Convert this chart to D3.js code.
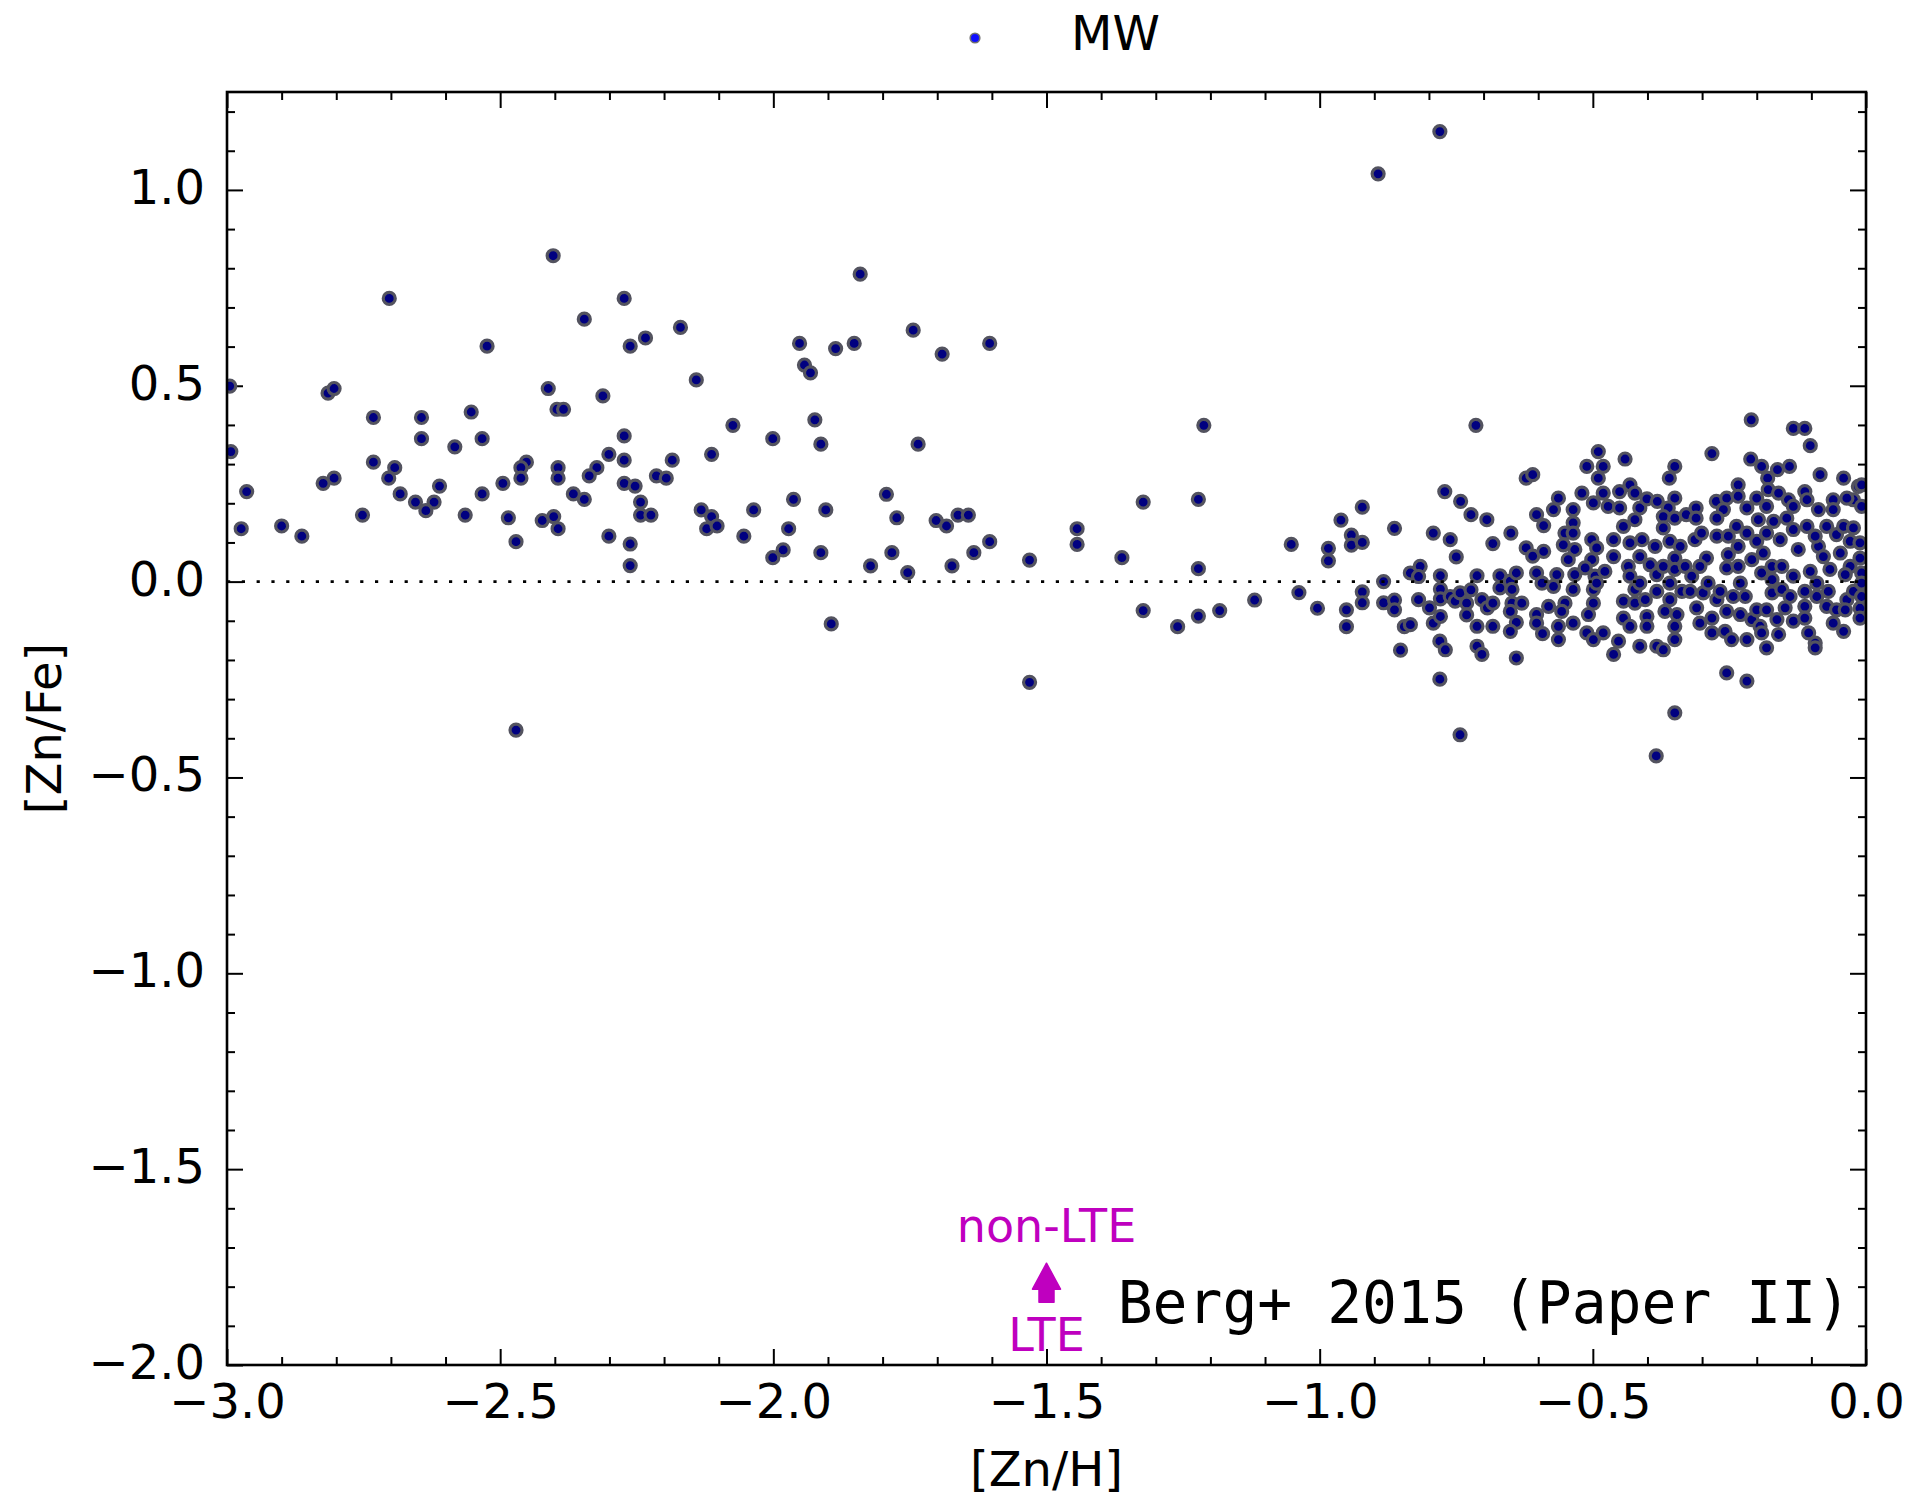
<!DOCTYPE html>
<html>
<head>
<meta charset="utf-8">
<script src="https://cdn.jsdelivr.net/npm/d3@7"></script>
<style>
  body { margin: 0; background: #ffffff; }
</style>
</head>
<body>
<svg id="chart" width="1909" height="1498"></svg>
<script>
// Axis ranges and labelled ticks
const xDomain = [-3.0, 0.0];
const yDomain = [-2.0, 1.25];
const xTicks = [-3.0, -2.5, -2.0, -1.5, -1.0, -0.5, 0.0];
const yTicks = [1.0, 0.5, 0.0, -0.5, -1.0, -1.5, -2.0];

// Milky Way stars: [ [Zn/H], [Zn/Fe] ]
// metal-poor halo stars
const mwHalo = [
  [-2.403,0.832],[-2.703,0.723],[-2.273,0.723],[-2.346,0.670],[-2.170,0.649],[-2.524,0.601],[-2.262,0.601],
  [-2.234,0.622],[-2.141,0.515],[-2.995,0.499],[-2.815,0.481],[-2.804,0.493],[-2.412,0.493],[-2.312,0.474],
  [-2.396,0.440],[-2.384,0.440],[-2.732,0.419],[-2.644,0.419],[-2.553,0.433],[-2.074,0.399],[-2.644,0.365],
  [-2.533,0.365],[-2.583,0.344],[-2.273,0.372],[-2.993,0.332],[-2.732,0.305],[-2.693,0.291],[-2.704,0.264],
  [-2.301,0.325],[-2.273,0.310],[-2.113,0.325],[-2.185,0.310],[-2.452,0.305],[-2.462,0.291],[-2.462,0.264],
  [-2.394,0.291],[-2.394,0.264],[-2.323,0.291],[-2.337,0.270],[-2.214,0.270],[-2.196,0.264],[-2.804,0.264],
  [-2.824,0.251],[-2.964,0.230],[-2.683,0.224],[-2.611,0.244],[-2.533,0.224],[-2.495,0.251],[-2.366,0.224],
  [-2.346,0.210],[-2.273,0.251],[-2.253,0.244],[-2.243,0.203],[-2.243,0.170],[-2.224,0.170],[-2.655,0.203],
  [-2.621,0.203],[-2.636,0.181],[-2.752,0.170],[-2.564,0.170],[-2.485,0.163],[-2.423,0.156],[-2.402,0.166],
  [-2.394,0.135],[-2.132,0.183],[-2.113,0.166],[-2.122,0.135],[-2.103,0.142],[-2.036,0.183],[-2.974,0.135],
  [-2.900,0.142],[-2.863,0.116],[-2.471,0.102],[-2.301,0.116],[-2.262,0.096],[-2.262,0.041],[-2.054,0.116],
  [-2.471,-0.379]
];

// intermediate metallicity stars
const mwIntermediate = [
  [-1.841,0.785],[-1.744,0.642],[-1.952,0.608],[-1.886,0.595],[-1.852,0.608],[-1.691,0.581],[-1.604,0.608],
  [-1.943,0.553],[-1.932,0.533],[-1.924,0.413],[-2.001,0.365],[-1.913,0.351],[-1.735,0.351],[-1.212,0.399],
  [-1.793,0.223],[-1.963,0.210],[-1.904,0.183],[-1.972,0.135],[-1.774,0.163],[-1.702,0.156],[-1.683,0.142],
  [-1.662,0.170],[-1.643,0.170],[-1.444,0.135],[-1.444,0.095],[-1.323,0.203],[-1.222,0.210],[-1.982,0.081],
  [-2.001,0.061],[-1.913,0.074],[-1.822,0.040],[-1.783,0.074],[-1.754,0.023],[-1.673,0.040],[-1.633,0.074],
  [-1.604,0.102],[-1.531,0.055],[-1.362,0.061],[-1.222,0.033],[-1.052,0.095],
  [-1.894,-0.108],[-1.531,-0.257],[-1.323,-0.074],[-1.260,-0.115],[-1.222,-0.088],[-1.183,-0.074],
  [-1.119,-0.047],[-1.038,-0.028],
  [-0.780,1.149],[-0.893,1.041],[-0.714,0.399],
  [-1.004,-0.068],[-0.984,0.085],[-0.984,0.053],[-0.961,0.157],[-0.942,0.119],[-0.942,0.093],[-0.922,0.190],
  [-0.922,0.100],[-0.951,-0.072],[-0.951,-0.115],[-0.922,-0.026],[-0.922,-0.054],[-0.883,0.000],[-0.883,-0.054],
  [-0.863,0.136],[-0.863,-0.047],[-0.863,-0.072],[-0.852,-0.175],[-0.845,-0.115],
  [-0.210,0.413],[-0.133,0.391],[-0.112,0.391],[-0.384,-0.445]
];

// thick-disc stars
const mwThickDisc = [
  [-0.771,0.230],[-0.742,0.205],[-0.723,0.171],[-0.694,0.158],[-0.792,0.124],[-0.761,0.107],[-0.750,0.063],
  [-0.683,0.097],[-0.650,0.124],[-0.622,0.264],[-0.610,0.273],[-0.603,0.171],[-0.590,0.143],[-0.622,0.086],
  [-0.610,0.065],[-0.590,0.077],[-0.572,0.184],[-0.563,0.213],
  [-0.834,0.022],[-0.816,0.039],[-0.819,0.013],[-0.779,0.015],[-0.779,-0.019],[-0.779,-0.044],[-0.819,-0.046],
  [-0.799,-0.067],[-0.834,-0.110],[-0.792,-0.106],[-0.779,-0.089],[-0.780,-0.152],[-0.770,-0.174],[-0.780,-0.249],
  [-0.743,-0.391],[-0.761,-0.038],[-0.752,-0.050],[-0.731,-0.055],[-0.743,-0.029],[-0.723,-0.021],[-0.712,0.015],
  [-0.731,-0.085],[-0.712,-0.114],[-0.712,-0.165],[-0.703,-0.186],[-0.703,-0.046],[-0.693,-0.067],[-0.683,-0.055],
  [-0.683,-0.114],[-0.670,0.015],[-0.670,-0.016],[-0.651,0.001],[-0.648,-0.020],[-0.640,0.022],[-0.648,-0.055],
  [-0.630,-0.055],[-0.651,-0.076],[-0.640,-0.104],[-0.651,-0.127],[-0.640,-0.195],[-0.603,0.022],[-0.593,-0.004],
  [-0.581,-0.063],[-0.603,-0.084],[-0.603,-0.106],[-0.592,-0.133],[-0.566,0.018],[-0.572,-0.012],[-0.563,-0.114],
  [-0.563,-0.148]
];

// thin-disc stars
const mwThinDisc = [
  [-0.490,0.332],[-0.511,0.294],[-0.481,0.294],[-0.490,0.264],[-0.441,0.313],[-0.350,0.294],[-0.360,0.264],
  [-0.282,0.327],[-0.211,0.313],[-0.191,0.294],[-0.162,0.286],[-0.140,0.294],[-0.180,0.264],[-0.102,0.347],
  [-0.084,0.273],[-0.041,0.264],[-0.014,0.243],[-0.023,0.209],
  [-0.520,0.226],[-0.536,0.184],[-0.536,0.150],[-0.481,0.226],[-0.499,0.201],[-0.472,0.192],[-0.451,0.230],
  [-0.451,0.188],[-0.432,0.247],[-0.423,0.226],[-0.423,0.158],[-0.414,0.188],[-0.401,0.211],[-0.382,0.205],
  [-0.350,0.213],[-0.362,0.188],[-0.371,0.166],[-0.350,0.162],[-0.329,0.171],[-0.311,0.188],[-0.311,0.162],
  [-0.274,0.205],[-0.255,0.213],[-0.261,0.184],[-0.234,0.247],[-0.234,0.218],[-0.218,0.188],[-0.200,0.213],
  [-0.179,0.235],[-0.160,0.226],[-0.182,0.192],[-0.142,0.209],[-0.112,0.230],[-0.133,0.192],[-0.108,0.209],
  [-0.087,0.184],[-0.060,0.209],[-0.060,0.184],[-0.035,0.213],[-0.008,0.247],
  [-0.551,0.124],[-0.554,0.094],[-0.536,0.124],[-0.533,0.082],[-0.545,0.056],[-0.533,0.018],[-0.502,0.107],
  [-0.493,0.086],[-0.502,0.056],[-0.514,0.035],[-0.496,0.014],[-0.478,0.026],[-0.462,0.064],[-0.462,0.107],
  [-0.444,0.141],[-0.432,0.099],[-0.435,0.039],[-0.432,0.014],[-0.414,0.064],[-0.410,0.107],[-0.395,0.043],
  [-0.386,0.090],[-0.383,0.018],[-0.371,0.137],[-0.359,0.103],[-0.371,0.039],[-0.350,0.060],[-0.340,0.090],
  [-0.350,0.031],[-0.331,0.039],[-0.319,0.014],[-0.313,0.107],[-0.301,0.124],[-0.292,0.060],[-0.304,0.039],
  [-0.273,0.116],[-0.273,0.162],[-0.252,0.116],[-0.252,0.069],[-0.255,0.035],[-0.237,0.141],[-0.234,0.090],
  [-0.234,0.039],[-0.218,0.124],[-0.209,0.056],[-0.197,0.158],[-0.200,0.103],[-0.182,0.124],[-0.188,0.073],
  [-0.191,0.022],[-0.169,0.154],[-0.157,0.107],[-0.172,0.039],[-0.154,0.039],[-0.145,0.162],[-0.133,0.133],
  [-0.124,0.082],[-0.133,0.014],[-0.108,0.141],[-0.102,0.026],[-0.087,0.090],[-0.093,0.116],[-0.078,0.064],
  [-0.072,0.141],[-0.054,0.120],[-0.066,0.031],[-0.047,0.073],[-0.041,0.141],[-0.023,0.137],[-0.029,0.103],
  [-0.029,0.039],[-0.011,0.099],[-0.011,0.060],[-0.008,0.022],[-0.038,0.018],[-0.008,0.192],
  [-0.551,-0.055],[-0.557,-0.076],[-0.536,-0.020],[-0.536,-0.106],[-0.499,-0.020],[-0.499,-0.055],[-0.508,-0.084],
  [-0.511,-0.131],[-0.499,-0.148],[-0.481,-0.131],[-0.462,-0.186],[-0.453,-0.152],[-0.444,-0.050],[-0.444,-0.093],
  [-0.423,-0.020],[-0.423,-0.055],[-0.432,-0.114],[-0.414,-0.165],[-0.404,-0.046],[-0.401,-0.089],[-0.401,-0.114],
  [-0.383,-0.025],[-0.383,-0.165],[-0.371,-0.174],[-0.368,-0.076],[-0.359,-0.046],[-0.346,-0.084],[-0.350,-0.114],
  [-0.350,-0.148],[-0.337,-0.025],[-0.322,-0.025],[-0.310,-0.067],[-0.304,-0.106],[-0.298,-0.029],[-0.282,-0.093],
  [-0.282,-0.131],[-0.273,-0.046],[-0.267,-0.025],[-0.255,-0.076],[-0.258,-0.127],[-0.246,-0.148],[-0.243,-0.038],
  [-0.230,-0.084],[-0.221,-0.038],[-0.218,-0.148],[-0.209,-0.097],[-0.200,-0.072],[-0.194,-0.114],[-0.191,-0.131],
  [-0.182,-0.072],[-0.182,-0.169],[-0.172,-0.029],[-0.163,-0.097],[-0.160,-0.135],[-0.154,-0.020],[-0.148,-0.067],
  [-0.139,-0.038],[-0.133,-0.101],[-0.112,-0.025],[-0.112,-0.063],[-0.112,-0.093],[-0.105,-0.131],[-0.093,-0.157],
  [-0.093,-0.169],[-0.090,-0.038],[-0.072,-0.063],[-0.069,-0.025],[-0.060,-0.106],[-0.054,-0.072],[-0.041,-0.127],
  [-0.035,-0.046],[-0.038,-0.072],[-0.023,-0.025],[-0.011,-0.068],[-0.011,-0.093],[-0.008,-0.038],[-0.008,-0.004],
  [-0.255,-0.233],[-0.218,-0.254],[-0.350,-0.335],[-0.172,0.005],[-0.230,-0.004],[-0.289,-0.004],[-0.359,-0.004],
  [-0.493,-0.004],[-0.414,-0.004],[-0.090,-0.004]
];

const mwStars = [].concat(mwHalo, mwIntermediate, mwThickDisc, mwThinDisc);

// non-LTE correction arrow and its labels, in data units
const nlteArrow = { x: -1.5, from: -1.84, to: -1.74 };
const nlteLabels = [
  { text: "non-LTE", x: -1.5, y: -1.686 },
  { text: "LTE", x: -1.5, y: -1.964 }
];

const legendLabel = "MW";
const sourceLabel = "Berg+ 2015 (Paper II)";
const xTitle = "[Zn/H]";
const yTitle = "[Zn/Fe]";

// ---- layout ----
const plot = { left: 227, right: 1866, top: 92, bottom: 1365 };
const svg = d3.select("#chart");
const x = d3.scaleLinear().domain(xDomain).range([plot.left, plot.right]);
const y = d3.scaleLinear().domain(yDomain).range([plot.bottom, plot.top]);

const FONT = "DejaVu Sans";
const MAGENTA = "#bf00bf";

svg.append("defs").call(defs => {
  defs.append("clipPath").attr("id", "plotClip")
    .append("rect")
    .attr("x", plot.left).attr("y", plot.top)
    .attr("width", plot.right - plot.left).attr("height", plot.bottom - plot.top);
  defs.append("filter").attr("id", "soft")
    .attr("x", "-20%").attr("y", "-20%").attr("width", "140%").attr("height", "140%")
    .append("feGaussianBlur").attr("stdDeviation", 0.6);
});

// minor tick positions every 0.1
const xMinor = d3.range(-29, 0).map(i => i / 10).filter(v => Math.abs(v * 2 - Math.round(v * 2)) > 1e-6);
const yMinor = d3.range(-19, 13).map(i => i / 10).filter(v => Math.abs(v * 2 - Math.round(v * 2)) > 1e-6);

function styleAxis(g) {
  g.select(".domain").remove();
  g.attr("font-family", FONT).attr("font-size", 48);
  g.selectAll(".tick line").attr("stroke", "#000").attr("stroke-width", 2);
  g.selectAll(".tick text").attr("fill", "#000");
}

const fmt = d3.format(".1f");

// bottom axis with labels
svg.append("g").attr("transform", `translate(0,${plot.bottom})`)
  .call(d3.axisBottom(x).tickValues(xTicks).tickSize(-16).tickSizeOuter(0).tickPadding(19).tickFormat(fmt))
  .call(styleAxis);
svg.append("g").attr("transform", `translate(0,${plot.bottom})`)
  .call(d3.axisBottom(x).tickValues(xMinor).tickSize(-8).tickSizeOuter(0).tickFormat(""))
  .call(styleAxis);
// top axis, ticks only
svg.append("g").attr("transform", `translate(0,${plot.top})`)
  .call(d3.axisTop(x).tickValues(xTicks).tickSize(-16).tickSizeOuter(0).tickFormat(""))
  .call(styleAxis);
svg.append("g").attr("transform", `translate(0,${plot.top})`)
  .call(d3.axisTop(x).tickValues(xMinor).tickSize(-8).tickSizeOuter(0).tickFormat(""))
  .call(styleAxis);
// left axis with labels
svg.append("g").attr("transform", `translate(${plot.left},0)`)
  .call(d3.axisLeft(y).tickValues(yTicks).tickSize(-16).tickSizeOuter(0).tickPadding(22).tickFormat(fmt))
  .call(styleAxis)
  .call(g => g.selectAll(".tick text").attr("dy", "0.28em"));
svg.append("g").attr("transform", `translate(${plot.left},0)`)
  .call(d3.axisLeft(y).tickValues(yMinor).tickSize(-8).tickSizeOuter(0).tickFormat(""))
  .call(styleAxis);
// right axis, ticks only
svg.append("g").attr("transform", `translate(${plot.right},0)`)
  .call(d3.axisRight(y).tickValues(yTicks).tickSize(-16).tickSizeOuter(0).tickFormat(""))
  .call(styleAxis);
svg.append("g").attr("transform", `translate(${plot.right},0)`)
  .call(d3.axisRight(y).tickValues(yMinor).tickSize(-8).tickSizeOuter(0).tickFormat(""))
  .call(styleAxis);

// data points
svg.append("g")
  .attr("clip-path", "url(#plotClip)")
  .append("g")
  .attr("filter", "url(#soft)")
  .selectAll("circle")
  .data(mwStars)
  .join("circle")
  .attr("cx", d => x(d[0]))
  .attr("cy", d => y(d[1]))
  .attr("r", 6.0)
  .attr("fill", "#000080")
  .attr("stroke", "#52525e")
  .attr("stroke-width", 3.2);

// solar ratio reference line
svg.append("line")
  .attr("x1", x(xDomain[0])).attr("x2", x(xDomain[1]))
  .attr("y1", y(0)).attr("y2", y(0))
  .attr("stroke", "#000").attr("stroke-width", 2.6)
  .attr("stroke-dasharray", "3.2,11.6");

// frame
svg.append("rect")
  .attr("x", plot.left).attr("y", plot.top)
  .attr("width", plot.right - plot.left).attr("height", plot.bottom - plot.top)
  .attr("fill", "none").attr("stroke", "#000").attr("stroke-width", 2.6);

// axis titles
svg.append("text")
  .attr("x", (plot.left + plot.right) / 2).attr("y", 1486)
  .attr("text-anchor", "middle")
  .attr("font-family", FONT).attr("font-size", 48).attr("fill", "#000")
  .text(xTitle);
svg.append("text")
  .attr("transform", `translate(61,${(plot.top + plot.bottom) / 2}) rotate(-90)`)
  .attr("text-anchor", "middle")
  .attr("font-family", FONT).attr("font-size", 48).attr("fill", "#000")
  .text(yTitle);

// legend
svg.append("circle")
  .attr("cx", 975).attr("cy", 38).attr("r", 4.8)
  .attr("fill", "#1010ff").attr("stroke", "#707070").attr("stroke-width", 1.6)
  .attr("filter", "url(#soft)");
svg.append("text")
  .attr("x", 1071).attr("y", 50)
  .attr("font-family", FONT).attr("font-size", 48).attr("fill", "#000")
  .text(legendLabel);

// non-LTE arrow (shaft + head) pointing upward
(function drawArrow() {
  const ax = x(nlteArrow.x);
  const yBase = y(nlteArrow.from);
  const yTip = y(nlteArrow.to);
  const headLen = 26, headHalf = 14, shaftHalf = 7.5;
  const yNeck = yTip + headLen;
  const pts = [
    [ax - shaftHalf, yBase], [ax - shaftHalf, yNeck], [ax - headHalf, yNeck],
    [ax, yTip], [ax + headHalf, yNeck], [ax + shaftHalf, yNeck], [ax + shaftHalf, yBase]
  ];
  svg.append("path")
    .attr("d", d3.line()(pts) + "Z")
    .attr("fill", MAGENTA).attr("stroke", MAGENTA).attr("stroke-width", 1.5)
    .attr("stroke-linejoin", "round");
})();

svg.append("g").selectAll("text")
  .data(nlteLabels)
  .join("text")
  .attr("x", d => x(d.x)).attr("y", d => y(d.y))
  .attr("text-anchor", "middle")
  .attr("font-family", FONT).attr("font-size", 46).attr("fill", MAGENTA)
  .text(d => d.text);

// source label
svg.append("text")
  .attr("x", 1851).attr("y", 1323)
  .attr("text-anchor", "end")
  .attr("font-family", "DejaVu Sans Mono").attr("font-size", 58).attr("fill", "#000")
  .text(sourceLabel);
</script>
</body>
</html>
